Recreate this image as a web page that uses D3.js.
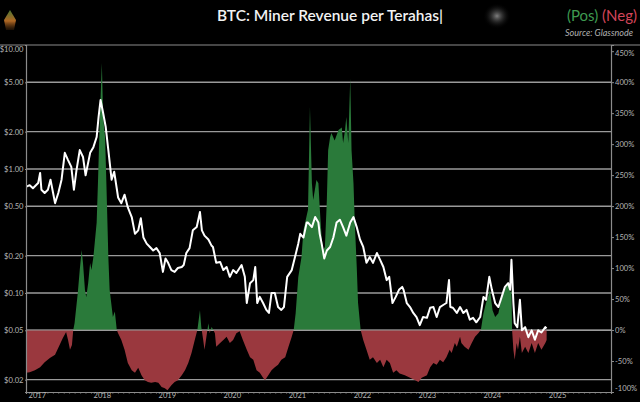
<!DOCTYPE html>
<html><head><meta charset="utf-8">
<script src="https://cdn.jsdelivr.net/npm/d3@7"></script>
<style>
html,body{margin:0;padding:0;background:#000;}
svg{display:block;}
</style></head>
<body>
<script>
// ---- data (decimal years) ----
const priceDates = [2016.84,2016.89,2016.94,2017.02,2017.05,2017.07,2017.12,2017.17,2017.21,2017.25,2017.28,2017.33,2017.38,2017.43,2017.48,2017.53,2017.57,2017.61,2017.66,2017.71,2017.75,2017.82,2017.87,2017.92,2017.95,2017.98,2018.02,2018.06,2018.10,2018.15,2018.19,2018.24,2018.25,2018.30,2018.35,2018.40,2018.46,2018.51,2018.56,2018.60,2018.64,2018.69,2018.74,2018.79,2018.84,2018.89,2018.94,2018.98,2019.02,2019.07,2019.12,2019.17,2019.23,2019.26,2019.30,2019.35,2019.40,2019.46,2019.51,2019.54,2019.58,2019.64,2019.69,2019.71,2019.76,2019.82,2019.87,2019.92,2019.97,2020.02,2020.07,2020.15,2020.20,2020.23,2020.28,2020.33,2020.36,2020.39,2020.43,2020.48,2020.53,2020.57,2020.61,2020.66,2020.71,2020.76,2020.80,2020.85,2020.92,2020.97,2021.02,2021.05,2021.10,2021.15,2021.17,2021.23,2021.28,2021.33,2021.35,2021.38,2021.42,2021.46,2021.51,2021.56,2021.61,2021.66,2021.71,2021.76,2021.82,2021.87,2021.92,2021.97,2022.02,2022.07,2022.12,2022.17,2022.23,2022.28,2022.33,2022.38,2022.42,2022.47,2022.52,2022.57,2022.62,2022.64,2022.69,2022.74,2022.79,2022.84,2022.89,2022.94,2023.00,2023.05,2023.10,2023.15,2023.20,2023.25,2023.30,2023.34,2023.36,2023.40,2023.46,2023.51,2023.56,2023.61,2023.66,2023.71,2023.76,2023.82,2023.87,2023.91,2023.96,2024.00,2024.05,2024.10,2024.15,2024.20,2024.25,2024.28,2024.30,2024.33,2024.35,2024.39,2024.43,2024.46,2024.51,2024.56,2024.61,2024.66,2024.71,2024.76,2024.82,2024.84];
const priceValues = [0.72,0.74,0.70,0.77,0.93,0.68,0.64,0.68,0.82,0.64,0.53,0.64,0.82,1.35,1.18,1.04,0.68,0.98,1.42,1.25,0.89,1.35,1.50,1.81,2.63,3.60,2.83,2.18,1.42,0.82,0.95,0.64,0.59,0.53,0.62,0.49,0.41,0.30,0.32,0.40,0.28,0.25,0.235,0.22,0.23,0.21,0.148,0.19,0.175,0.153,0.148,0.159,0.162,0.168,0.21,0.23,0.32,0.34,0.45,0.32,0.29,0.27,0.24,0.235,0.175,0.178,0.153,0.162,0.135,0.153,0.145,0.168,0.135,0.083,0.12,0.127,0.162,0.083,0.093,0.083,0.073,0.069,0.100,0.100,0.077,0.073,0.077,0.135,0.153,0.195,0.25,0.30,0.28,0.37,0.37,0.34,0.41,0.37,0.30,0.25,0.19,0.22,0.235,0.28,0.37,0.39,0.34,0.29,0.37,0.41,0.34,0.27,0.235,0.175,0.195,0.175,0.21,0.185,0.162,0.127,0.135,0.083,0.093,0.106,0.112,0.106,0.083,0.077,0.069,0.064,0.055,0.064,0.063,0.076,0.077,0.064,0.077,0.080,0.083,0.127,0.077,0.076,0.069,0.077,0.069,0.073,0.061,0.063,0.058,0.064,0.093,0.088,0.135,0.106,0.083,0.077,0.093,0.112,0.12,0.106,0.185,0.083,0.057,0.053,0.088,0.050,0.053,0.044,0.050,0.042,0.050,0.048,0.053,0.052];

const pctDates = [2016.83,2016.89,2016.97,2017.05,2017.12,2017.20,2017.28,2017.35,2017.40,2017.45,2017.48,2017.51,2017.54,2017.56,2017.58,2017.63,2017.66,2017.69,2017.71,2017.74,2017.76,2017.79,2017.82,2017.84,2017.87,2017.89,2017.92,2017.94,2017.97,2018.00,2018.02,2018.05,2018.07,2018.10,2018.12,2018.17,2018.20,2018.23,2018.25,2018.30,2018.35,2018.40,2018.46,2018.51,2018.56,2018.61,2018.66,2018.71,2018.76,2018.82,2018.87,2018.92,2018.97,2019.01,2019.07,2019.12,2019.17,2019.23,2019.28,2019.33,2019.38,2019.43,2019.47,2019.51,2019.53,2019.56,2019.58,2019.64,2019.66,2019.69,2019.74,2019.76,2019.82,2019.87,2019.92,2019.97,2020.02,2020.07,2020.12,2020.17,2020.23,2020.28,2020.33,2020.38,2020.43,2020.48,2020.51,2020.56,2020.61,2020.66,2020.71,2020.76,2020.82,2020.87,2020.92,2020.95,2020.98,2021.02,2021.07,2021.10,2021.15,2021.17,2021.20,2021.23,2021.25,2021.30,2021.33,2021.35,2021.38,2021.40,2021.43,2021.46,2021.48,2021.51,2021.53,2021.58,2021.64,2021.69,2021.71,2021.74,2021.76,2021.79,2021.82,2021.84,2021.87,2021.89,2021.92,2021.94,2021.98,2022.02,2022.07,2022.12,2022.17,2022.23,2022.28,2022.33,2022.38,2022.43,2022.48,2022.53,2022.58,2022.66,2022.74,2022.82,2022.87,2022.92,2023.00,2023.05,2023.10,2023.15,2023.20,2023.25,2023.30,2023.35,2023.38,2023.43,2023.46,2023.51,2023.53,2023.58,2023.64,2023.69,2023.74,2023.79,2023.83,2023.87,2023.91,2023.94,2023.97,2024.01,2024.05,2024.10,2024.15,2024.20,2024.25,2024.28,2024.30,2024.31,2024.33,2024.35,2024.38,2024.40,2024.43,2024.46,2024.51,2024.56,2024.61,2024.66,2024.71,2024.76,2024.82,2024.84];
const pctValues = [-69,-68,-65,-60,-52,-45,-40,-24,-13,-3,-16,-32,-24,0,11,60,97,129,108,65,53,76,108,97,118,140,173,237,344,431,344,311,237,118,65,21,30,0,-5,-16,-32,-53,-65,-69,-61,-73,-81,-84,-85,-84,-85,-92,-94,-97,-89,-84,-81,-73,-65,-53,-37,-16,0,32,5,-16,-32,11,-5,5,-5,-27,-21,-16,-11,-21,-16,-5,-2,-16,-32,-44,-48,-65,-69,-77,-81,-73,-65,-60,-56,-48,-44,-27,-11,0,27,85,118,161,185,194,360,237,210,242,237,198,150,129,134,210,290,311,318,306,323,327,302,323,344,302,406,290,237,173,102,44,0,-16,-32,-48,-44,-53,-48,-60,-48,-53,-69,-65,-70,-73,-77,-81,-84,-77,-73,-60,-53,-56,-48,-52,-44,-32,-37,-21,-27,-11,-21,-27,-32,-21,-11,-5,0,27,44,53,65,32,21,27,53,65,76,60,65,0,-32,-48,-21,-32,-11,-37,-27,-37,-21,-37,-21,-32,-21,-16];

const leftTicks = [10,5,2,1,0.5,0.2,0.1,0.05,0.02];
const rightTicks = [-100,-50,0,50,100,150,200,250,300,350,400,450];
const yearTicks = [2017,2018,2019,2020,2021,2022,2023,2024,2025];

// ---- helpers ----
function yearToDate(y){
  const yr = Math.floor(y);
  const a = new Date(yr,0,1), b = new Date(yr+1,0,1);
  return new Date(+a + (y-yr)*(b-a));
}
const price = priceDates.map((d,i)=>({date:yearToDate(d), v:priceValues[i]}));
const pct = pctDates.map((d,i)=>({date:yearToDate(d), v:pctValues[i]/100}));

const W=640,H=402;
const L=26,R=611,T=45,B=392;
const svg = d3.select("body").append("svg").attr("width",W).attr("height",H)
  .style("background","#000");

const x = d3.scaleTime().domain([new Date(2016,10,1), new Date(2025,9,31)]).range([L,R]);
const yL = d3.scaleLog().domain([0.0159,10]).range([B,T]);
const yR = d3.scaleLinear().domain([-1,4.6]).range([B,T]);

const defs = svg.append("defs");
defs.append("clipPath").attr("id","above").append("rect")
  .attr("x",L).attr("y",T).attr("width",R-L).attr("height",yR(0)-T);
defs.append("clipPath").attr("id","below").append("rect")
  .attr("x",L).attr("y",yR(0)).attr("width",R-L).attr("height",B-yR(0));
const lg = defs.append("radialGradient").attr("id","blob");
lg.append("stop").attr("offset","0%").attr("stop-color","#d5d5d5");
lg.append("stop").attr("offset","100%").attr("stop-color","#000").attr("stop-opacity",0);
const lg2 = defs.append("linearGradient").attr("id","logo").attr("x1","0").attr("y1","0").attr("x2","0").attr("y2","1");
lg2.append("stop").attr("offset","0%").attr("stop-color","#5a8a3a");
lg2.append("stop").attr("offset","55%").attr("stop-color","#d07a2a");
lg2.append("stop").attr("offset","100%").attr("stop-color","#6a3a10").attr("stop-opacity",0.3);

// top line
svg.append("line").attr("x1",0).attr("x2",W).attr("y1",T).attr("y2",T)
  .attr("stroke","#8c8c8c").attr("stroke-width",1.2);

// gridlines from left ticks
svg.append("g").selectAll("line").data(leftTicks.filter(d=>d<10)).join("line")
  .attr("x1",L).attr("x2",R).attr("y1",d=>yL(d)).attr("y2",d=>yL(d))
  .attr("stroke","#9a9a9a").attr("stroke-width",1.4);

// pos/neg area
const area = d3.area().x(d=>x(d.date)).y0(yR(0)).y1(d=>yR(d.v));
svg.append("path").datum(pct).attr("d",area).attr("fill","#2a7a3a").attr("clip-path","url(#above)");
svg.append("path").datum(pct).attr("d",area).attr("fill","#9a383e").attr("clip-path","url(#below)");

// zero line on top of area
svg.append("line").attr("x1",L).attr("x2",R).attr("y1",yR(0)).attr("y2",yR(0))
  .attr("stroke","#9a9a9a").attr("stroke-width",1.2).attr("opacity",0.7);

// price line
const line = d3.line().x(d=>x(d.date)).y(d=>yL(d.v));
svg.append("path").datum(price).attr("d",line).attr("fill","none")
  .attr("stroke","#fff").attr("stroke-width",2).attr("stroke-linejoin","round");

// axes
const axisColor="#8c8c8c", txtColor="#b5b5b5";
const gl = svg.append("g").attr("transform",`translate(${L},0)`)
  .call(d3.axisLeft(yL).tickValues(leftTicks).tickFormat(d=>"$"+d.toFixed(2)).tickSize(1).tickPadding(1.5));
const gr = svg.append("g").attr("transform",`translate(${R},0)`)
  .call(d3.axisRight(yR).tickValues(rightTicks.map(d=>d/100)).tickFormat(d=>Math.round(d*100)+"%").tickSize(3).tickPadding(1));
const gb = svg.append("g").attr("transform",`translate(0,${B})`)
  .call(d3.axisBottom(x).tickValues(yearTicks.map(y=>new Date(y,0,1))).tickFormat(d3.timeFormat("%Y")).tickSize(2).tickPadding(0));
const gm = svg.append("g").attr("transform",`translate(0,${B})`)
  .call(d3.axisBottom(x).ticks(d3.timeMonth.every(1)).tickFormat("").tickSize(1.5));
gm.select(".domain").remove();
for (const g of [gl,gr,gb,gm]) {
  g.selectAll("path.domain").attr("stroke",axisColor).attr("stroke-width",1.2);
  g.selectAll(".tick line").attr("stroke",axisColor);
  g.selectAll("text").attr("fill",txtColor).style("font-family","Lato, 'Open Sans', sans-serif").style("font-size","7.6px");
}
gb.selectAll(".tick text").attr("y",1).attr("dy","0.7em");
gl.selectAll(".tick text").filter(d=>d===10).attr("dy","0.8em");
gr.selectAll(".tick text").filter(d=>Math.abs(d-4.5)<1e-6).attr("dy","0.5em");
gr.selectAll(".tick text").filter(d=>Math.abs(d+1)<1e-6).attr("dy","-0.2em");

// title
svg.append("text").attr("x",330).attr("y",21).attr("text-anchor","middle")
  .attr("fill","#f2f2f2").style("font-family","Lato, 'Open Sans', sans-serif")
  .style("font-size","15.5px").style("font-weight","600")
  .text("BTC: Miner Revenue per Terahas|");
// watermark blob and logo
svg.append("ellipse").attr("cx",497).attr("cy",16).attr("rx",14).attr("ry",13).attr("fill","url(#blob)").attr("opacity",0.6);
svg.append("path").attr("d","M10,10 L16,20 L14,30 L6,30 L4,20 Z").attr("fill","url(#logo)").attr("opacity",0.85);
// legend
const leg = svg.append("text").attr("x",637).attr("y",21).attr("text-anchor","end")
  .style("font-family","Lato, 'Open Sans', sans-serif").style("font-size","15px");
leg.append("tspan").attr("fill","#3e9a50").text("(Pos) ");
leg.append("tspan").attr("fill","#d2455a").text("(Neg)");
svg.append("text").attr("x",633).attr("y",36).attr("text-anchor","end")
  .attr("fill","#b0b0b0").style("font-family","Lato, 'Open Sans', sans-serif")
  .style("font-size","9px").style("font-style","italic").text("Source: Glassnode");
</script>
</body></html>
